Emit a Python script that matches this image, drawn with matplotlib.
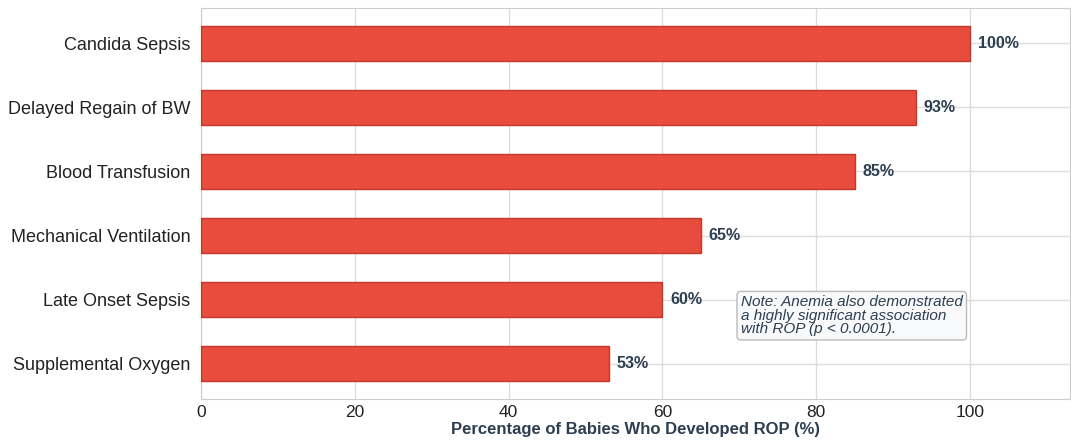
import matplotlib
matplotlib.use("Agg")
import matplotlib.pyplot as plt
import seaborn as sns

sns.set_style("whitegrid")
plt.rcParams['font.family'] = ['Liberation Sans', 'DejaVu Sans']

# Data (bottom to top)
factors = ["Supplemental Oxygen", "Late Onset Sepsis", "Mechanical Ventilation",
           "Blood Transfusion", "Delayed Regain of BW", "Candida Sepsis"]
rop_pct = [53, 60, 65, 85, 93, 100]

fig = plt.figure(figsize=(10.71, 4.41), dpi=100)
ax = fig.add_axes([0.1877, 0.0952, 0.8113, 0.8868])

ypos = list(range(len(factors)))
ax.barh(ypos, rop_pct, height=0.55, color="#e74c3c", edgecolor="#c0392b",
        linewidth=1, zorder=3)

for y, v in zip(ypos, rop_pct):
    ax.text(v + 1, y, f"{v}%", va="center", ha="left", fontsize=11.5,
            fontweight="bold", color="#2c3e50", zorder=4)

ax.set_yticks(ypos)
ax.set_yticklabels(factors, fontsize=13, color="#222222")
ax.set_xticks([0, 20, 40, 60, 80, 100])
ax.tick_params(axis="x", labelsize=12.5, colors="#222222", pad=0.5)
ax.tick_params(axis="y", pad=4)
ax.set_xlim(0, 113)
ax.set_ylim(-0.55, 5.55)
ax.set_xlabel("Percentage of Babies Who Developed ROP (%)", fontsize=12,
              fontweight="bold", color="#2c3e50", labelpad=2)

ax.grid(True, color="#dddddd", linewidth=1, zorder=0)
for s in ax.spines.values():
    s.set_color("#cccccc")

ax.text(70.2, 0.75, "Note: Anemia also demonstrated\na highly significant association\nwith ROP (p < 0.0001).",
        fontsize=11, style="italic", color="#2c3e50", va="center", ha="left",
        linespacing=0.95, zorder=5,
        bbox=dict(boxstyle="round,pad=0.25", facecolor="#f8f9fa", edgecolor="#bbbbbb", linewidth=1))

fig.savefig("out.png", dpi=100)
